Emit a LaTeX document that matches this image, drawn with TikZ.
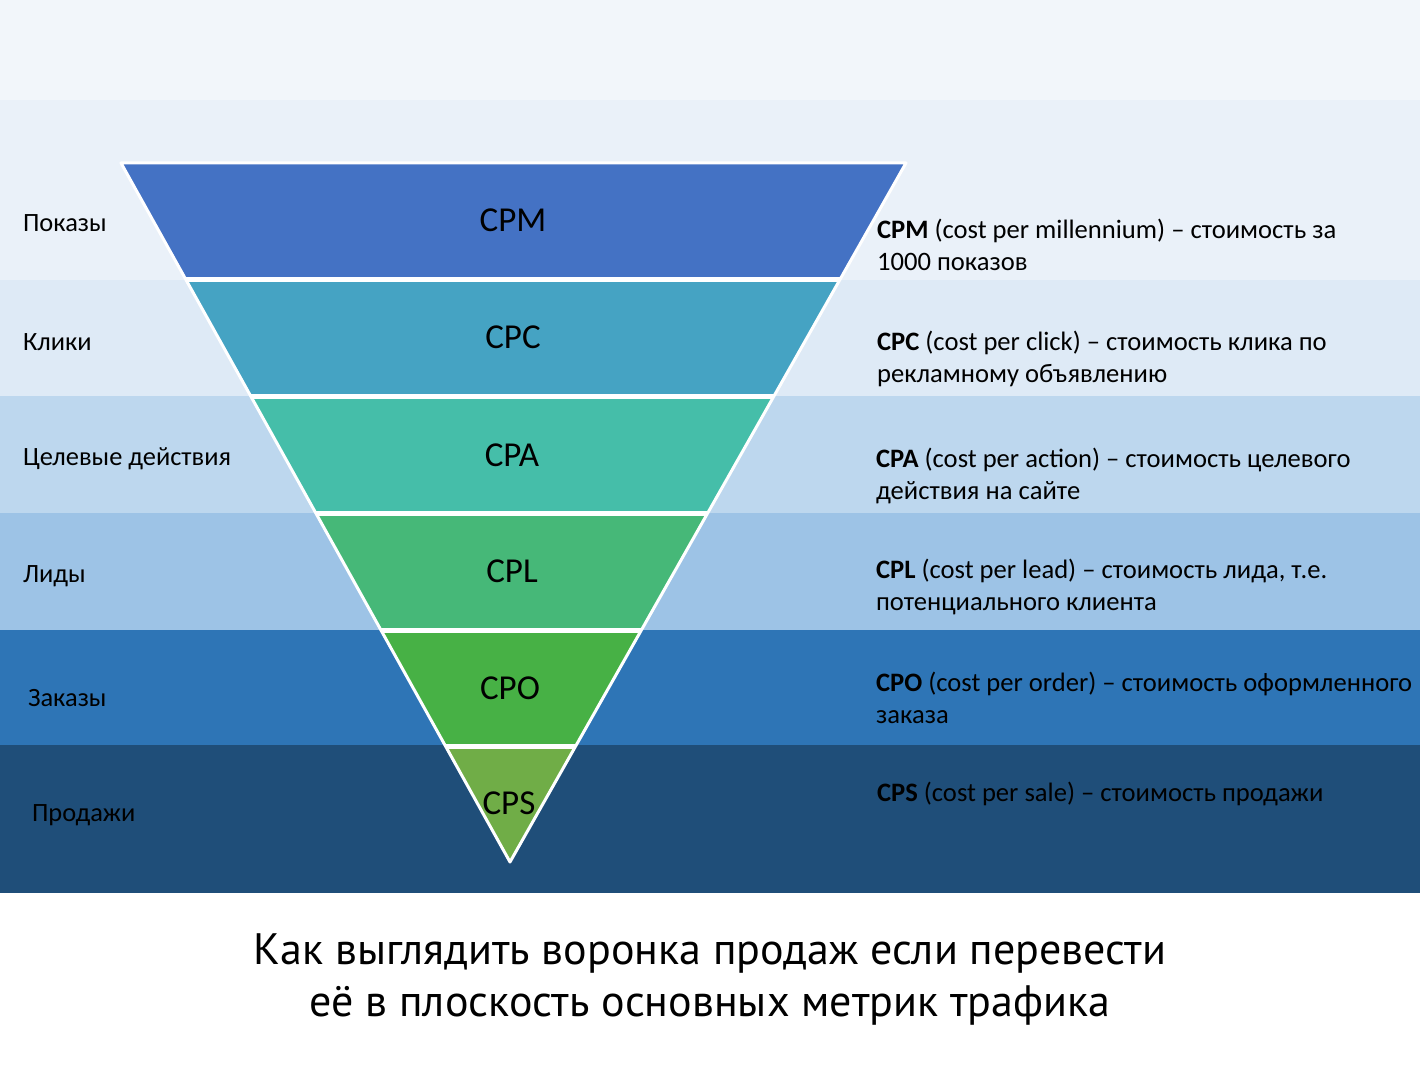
\documentclass[tikz,border=0pt]{standalone}
\usepackage{fontspec}
\setmainfont{Carlito}
\newfontfamily\titlefont{PT Sans}
\usetikzlibrary{calc}

\definecolor{bandA}{HTML}{F2F6FA}
\definecolor{bandB}{HTML}{EAF1F9}
\definecolor{bandC}{HTML}{DEEAF6}
\definecolor{bandD}{HTML}{BDD7EE}
\definecolor{bandE}{HTML}{9DC3E6}
\definecolor{bandF}{HTML}{2E75B6}
\definecolor{bandG}{HTML}{1F4E79}
\definecolor{segM}{HTML}{4472C4}
\definecolor{segC}{HTML}{45A3C3}
\definecolor{segA}{HTML}{45BEA9}
\definecolor{segL}{HTML}{46B878}
\definecolor{segO}{HTML}{47B145}
\definecolor{segS}{HTML}{70AD47}

\tikzset{
  stage/.style={anchor=west,font=\fontsize{13.2}{15}\selectfont},
  metric/.style={font=\fontsize{17.5}{20}\selectfont},
  note/.style={anchor=west,align=left,font=\fontsize{13.3}{16}\selectfont},
}

\begin{document}
\begin{tikzpicture}[x=0.5pt,y=-0.5pt]
  \useasboundingbox (0,0) rectangle (1420,1080);
  % background bands
  \fill[bandA] (0,0) rectangle (1420,100);
  \fill[bandB] (0,100) rectangle (1420,280);
  \fill[bandC] (0,280) rectangle (1420,396);
  \fill[bandD] (0,396) rectangle (1420,513);
  \fill[bandE] (0,513) rectangle (1420,630);
  \fill[bandF] (0,630) rectangle (1420,745);
  \fill[bandG] (0,745) rectangle (1420,893);
  % funnel
  \coordinate (tl) at (121,163);
  \coordinate (tr) at (906,163);
  \coordinate (tip) at (510,862);
  \begin{scope}
    \clip (tl) -- (tr) -- (tip) -- cycle;
    \foreach \ya/\yb/\col in {163/280/segM,280/397/segC,397/514/segA,
                              514/631/segL,631/746/segO,746/862/segS}
      \fill[\col] (100,\ya) rectangle (920,\yb);
    \foreach \yy in {280,397,514,631,746}
      \draw[white,line width=2.5pt] (100,\yy) -- (920,\yy);
  \end{scope}
  \draw[white,line width=1.5pt,line join=round] (tl) -- (tr) -- (tip) -- cycle;
  % metric names
  \node[metric] (cpm) at (513,220) {CPM};
  \node[metric] (cpc) at (513,337) {CPC};
  \node[metric] (cpa) at (512,455) {CPA};
  \node[metric] (cpl) at (512,571) {CPL};
  \node[metric] (cpo) at (510,688) {CPO};
  \node[metric] (cps) at (509,803) {CPS};
  % stages
  \node[stage] (shows) at (16,223) {Показы};
  \node[stage] (clicks) at (16,342) {Клики};
  \node[stage] (actions) at (16,459) {Целевые действия};
  \node[stage] (leads) at (16,576) {Лиды};
  \node[stage] (orders) at (21,698) {Заказы};
  \node[stage] (sales) at (25,815) {Продажи};
  % notes
  \node[note] (nm) at (870,245) {\textbf{CPM} (cost per millennium) -- стоимость за\\1000 показов};
  \node[note] (nc) at (870,359) {\textbf{CPC} (cost per click) -- стоимость клика по\\рекламному объявлению};
  \node[note] (na) at (869,476) {\textbf{CPA} (cost per action) -- стоимость целевого\\действия на сайте};
  \node[note] (nl) at (869,587) {\textbf{CPL} (cost per lead) -- стоимость лида, т.е.\\потенциального клиента};
  \node[note] (no) at (869,698) {\textbf{CPO} (cost per order) -- стоимость оформленного\\заказа};
  \node[note] (ns) at (870,794) {\textbf{CPS} (cost per sale) -- стоимость продажи};
  % caption
  \node[align=center,font=\titlefont\fontsize{22}{26}\selectfont] (caption) at (710,979)
    {Как выглядить воронка продаж если перевести\\её в плоскость основных метрик трафика};
\end{tikzpicture}
\end{document}
